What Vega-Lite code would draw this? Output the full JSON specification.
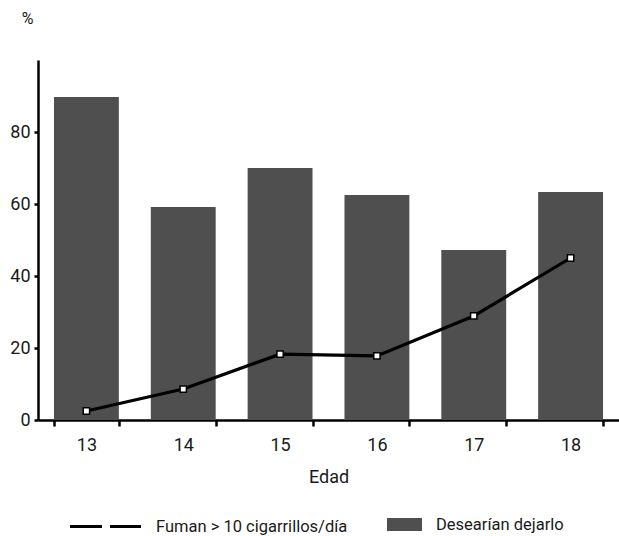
{
  "$schema": "https://vega.github.io/schema/vega-lite/v6.json",
  "width": 581,
  "height": 360,
  "autosize": {"type": "none"},
  "padding": {"left": 38, "top": 60, "right": 0, "bottom": 116},
  "background": "white",
  "config": {
    "view": {"stroke": null},
    "font": "Roboto",
    "axis": {
      "domainColor": "black",
      "domainWidth": 2.5,
      "tickColor": "black",
      "tickWidth": 2.5,
      "labelColor": "#1a1a1a",
      "labelFontSize": 18,
      "labelFont": "Roboto",
      "titleFont": "Roboto",
      "titleFontWeight": "normal",
      "titleColor": "#1a1a1a",
      "titleFontSize": 18,
      "grid": false
    },
    "legend": {
      "labelFont": "Roboto",
      "labelFontSize": 16.5,
      "labelColor": "#1a1a1a",
      "labelLimit": 0,
      "padding": 0
    }
  },
  "data": {
    "values": [
      {"edad": "13", "dejarlo": 89.7, "fuman": 2.5},
      {"edad": "14", "dejarlo": 59.2, "fuman": 8.6},
      {"edad": "15", "dejarlo": 70.0, "fuman": 18.3},
      {"edad": "16", "dejarlo": 62.5, "fuman": 17.8},
      {"edad": "17", "dejarlo": 47.2, "fuman": 28.9},
      {"edad": "18", "dejarlo": 63.3, "fuman": 45.0}
    ]
  },
  "encoding": {
    "x": {
      "field": "edad",
      "type": "ordinal",
      "scale": {"paddingInner": 0.33, "paddingOuter": 0.165},
      "axis": {
        "title": "Edad",
        "labelAngle": 0,
        "tickBand": "extent",
        "tickSize": 6,
        "labelPadding": 10,
        "titlePadding": 14
      }
    }
  },
  "layer": [
    {
      "mark": {"type": "bar", "opacity": 1},
      "encoding": {
        "y": {
          "field": "dejarlo",
          "type": "quantitative",
          "scale": {"domain": [0, 100], "nice": false},
          "axis": {
            "values": [0, 20, 40, 60, 80],
            "title": "%",
            "titleAngle": 0,
            "titleAlign": "center",
            "titleBaseline": "middle",
            "titleX": -11,
            "titleY": -42,
            "titleFontSize": 16,
            "tickSize": 4,
            "labelPadding": 4
          }
        },
        "fill": {
          "datum": "Desearían dejarlo",
          "scale": {"range": ["#4f4f4f"]},
          "legend": {
            "title": null,
            "orient": "none",
            "legendX": 349,
            "legendY": 447,
            "symbolType": "M-1,-0.37H1V0.37H-1Z",
            "symbolSize": 1225,
            "symbolStrokeWidth": 0,
            "labelOffset": 14
          }
        }
      }
    },
    {
      "mark": {"type": "line", "strokeWidth": 3.2},
      "encoding": {
        "y": {"field": "fuman", "type": "quantitative"},
        "stroke": {
          "datum": "Fuman > 10 cigarrillos/día",
          "scale": {"range": ["black"]},
          "legend": {
            "title": null,
            "orient": "none",
            "legendX": 30,
            "legendY": 429,
            "symbolType": "stroke",
            "symbolSize": 5041,
            "symbolStrokeWidth": 3.2,
            "symbolDash": [32, 8],
            "labelOffset": 13
          }
        }
      }
    },
    {
      "mark": {"type": "point", "shape": "square", "filled": true, "fill": "white", "stroke": "black", "strokeWidth": 1.5, "size": 40, "opacity": 1},
      "encoding": {
        "y": {"field": "fuman", "type": "quantitative"}
      }
    }
  ]
}
